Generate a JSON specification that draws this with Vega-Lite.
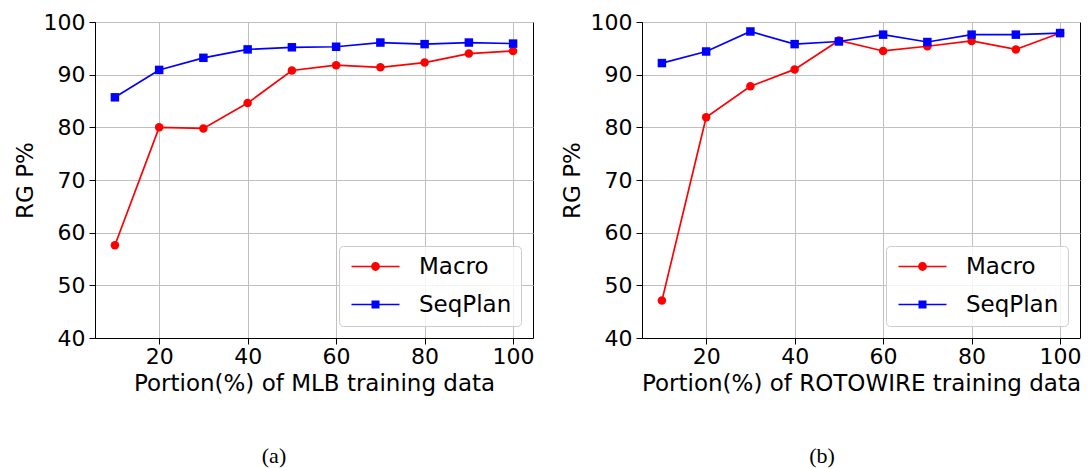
{
  "$schema": "https://vega.github.io/schema/vega-lite/v6.json",
  "padding": {"left": 13, "top": 10, "right": 0, "bottom": 0},
  "datasets": {
    "mlb": [
      {"portion": 10, "model": "Macro", "rg": 57.6},
      {"portion": 20, "model": "Macro", "rg": 80.0},
      {"portion": 30, "model": "Macro", "rg": 79.8},
      {"portion": 40, "model": "Macro", "rg": 84.6},
      {"portion": 50, "model": "Macro", "rg": 90.8},
      {"portion": 60, "model": "Macro", "rg": 91.8},
      {"portion": 70, "model": "Macro", "rg": 91.4},
      {"portion": 80, "model": "Macro", "rg": 92.3},
      {"portion": 90, "model": "Macro", "rg": 94.0},
      {"portion": 100, "model": "Macro", "rg": 94.5},
      {"portion": 10, "model": "SeqPlan", "rg": 85.7},
      {"portion": 20, "model": "SeqPlan", "rg": 90.9},
      {"portion": 30, "model": "SeqPlan", "rg": 93.2},
      {"portion": 40, "model": "SeqPlan", "rg": 94.8},
      {"portion": 50, "model": "SeqPlan", "rg": 95.2},
      {"portion": 60, "model": "SeqPlan", "rg": 95.3},
      {"portion": 70, "model": "SeqPlan", "rg": 96.1},
      {"portion": 80, "model": "SeqPlan", "rg": 95.8},
      {"portion": 90, "model": "SeqPlan", "rg": 96.1},
      {"portion": 100, "model": "SeqPlan", "rg": 95.9}
    ],
    "rotowire": [
      {"portion": 10, "model": "Macro", "rg": 47.1},
      {"portion": 20, "model": "Macro", "rg": 81.9},
      {"portion": 30, "model": "Macro", "rg": 87.8},
      {"portion": 40, "model": "Macro", "rg": 91.0},
      {"portion": 50, "model": "Macro", "rg": 96.5},
      {"portion": 60, "model": "Macro", "rg": 94.5},
      {"portion": 70, "model": "Macro", "rg": 95.4},
      {"portion": 80, "model": "Macro", "rg": 96.4},
      {"portion": 90, "model": "Macro", "rg": 94.8},
      {"portion": 100, "model": "Macro", "rg": 97.9},
      {"portion": 10, "model": "SeqPlan", "rg": 92.2},
      {"portion": 20, "model": "SeqPlan", "rg": 94.4},
      {"portion": 30, "model": "SeqPlan", "rg": 98.2},
      {"portion": 40, "model": "SeqPlan", "rg": 95.8},
      {"portion": 50, "model": "SeqPlan", "rg": 96.3},
      {"portion": 60, "model": "SeqPlan", "rg": 97.6},
      {"portion": 70, "model": "SeqPlan", "rg": 96.2},
      {"portion": 80, "model": "SeqPlan", "rg": 97.6},
      {"portion": 90, "model": "SeqPlan", "rg": 97.6},
      {"portion": 100, "model": "SeqPlan", "rg": 97.9}
    ]
  },
  "hconcat": [
    {
      "width": 438,
      "height": 316,
      "data": {"name": "mlb"},
      "title": {"text": "(a)", "orient": "bottom", "anchor": "middle", "frame": "group", "offset": 51, "dx": -40},
      "encoding": {
        "x": {"field": "portion", "type": "quantitative", "scale": {"domain": [5.5, 104.5], "nice": false, "zero": false}, "axis": {"values": [20, 40, 60, 80, 100], "title": "Portion(%) of MLB training data"}},
        "y": {"field": "rg", "type": "quantitative", "scale": {"domain": [40, 100], "nice": false, "zero": false}, "axis": {"values": [40, 50, 60, 70, 80, 90, 100], "title": "RG P%"}},
        "color": {"field": "model", "type": "nominal", "scale": {"domain": ["Macro", "SeqPlan"], "range": ["#ff0000", "#0000ff"]}}
      },
      "layer": [
        {
          "mark": {"type": "point", "filled": true, "opacity": 0, "size": 256},
          "encoding": {
            "color": {"field": "model", "type": "nominal", "scale": {"domain": ["Macro", "SeqPlan"], "range": ["#ff0000", "#0000ff"]}, "legend": {"title": null}},
            "shape": {"field": "model", "type": "nominal", "scale": {"domain": ["Macro", "SeqPlan"], "range": ["M-1,-0.1H5V0.1H-1Z M2.55,0A0.55,0.55,0,1,1,1.45,0A0.55,0.55,0,1,1,2.55,0Z", "M-1,-0.1H5V0.1H-1Z M1.5,-0.5H2.5V0.5H1.5Z"]}, "legend": {"title": null}}
          }
        },
        {"transform": [{"filter": "datum.model === 'Macro'"}], "mark": {"type": "line", "strokeWidth": 1.7}},
        {"transform": [{"filter": "datum.model === 'Macro'"}], "mark": {"type": "point", "shape": "circle", "filled": true, "size": 72, "opacity": 1}},
        {"transform": [{"filter": "datum.model === 'SeqPlan'"}], "mark": {"type": "line", "strokeWidth": 1.7}},
        {"transform": [{"filter": "datum.model === 'SeqPlan'"}], "mark": {"type": "point", "shape": "square", "filled": true, "size": 72, "opacity": 1}}
      ]
    },
    {
      "width": 438,
      "height": 316,
      "data": {"name": "rotowire"},
      "title": {"text": "(b)", "orient": "bottom", "anchor": "middle", "frame": "group", "offset": 51, "dx": -39},
      "encoding": {
        "x": {"field": "portion", "type": "quantitative", "scale": {"domain": [5.5, 104.5], "nice": false, "zero": false}, "axis": {"values": [20, 40, 60, 80, 100], "title": "Portion(%) of ROTOWIRE training data"}},
        "y": {"field": "rg", "type": "quantitative", "scale": {"domain": [40, 100], "nice": false, "zero": false}, "axis": {"values": [40, 50, 60, 70, 80, 90, 100], "title": "RG P%"}},
        "color": {"field": "model", "type": "nominal", "scale": {"domain": ["Macro", "SeqPlan"], "range": ["#ff0000", "#0000ff"]}}
      },
      "layer": [
        {
          "mark": {"type": "point", "filled": true, "opacity": 0, "size": 256},
          "encoding": {
            "color": {"field": "model", "type": "nominal", "scale": {"domain": ["Macro", "SeqPlan"], "range": ["#ff0000", "#0000ff"]}, "legend": {"title": null}},
            "shape": {"field": "model", "type": "nominal", "scale": {"domain": ["Macro", "SeqPlan"], "range": ["M-1,-0.1H5V0.1H-1Z M2.55,0A0.55,0.55,0,1,1,1.45,0A0.55,0.55,0,1,1,2.55,0Z", "M-1,-0.1H5V0.1H-1Z M1.5,-0.5H2.5V0.5H1.5Z"]}, "legend": {"title": null}}
          }
        },
        {"transform": [{"filter": "datum.model === 'Macro'"}], "mark": {"type": "line", "strokeWidth": 1.7}},
        {"transform": [{"filter": "datum.model === 'Macro'"}], "mark": {"type": "point", "shape": "circle", "filled": true, "size": 72, "opacity": 1}},
        {"transform": [{"filter": "datum.model === 'SeqPlan'"}], "mark": {"type": "line", "strokeWidth": 1.7}},
        {"transform": [{"filter": "datum.model === 'SeqPlan'"}], "mark": {"type": "point", "shape": "square", "filled": true, "size": 72, "opacity": 1}}
      ]
    }
  ],
  "spacing": 6,
  "resolve": {"legend": {"color": "independent", "shape": "independent"}, "scale": {"color": "independent", "shape": "independent"}},
  "config": {
    "font": "DejaVu Sans",
    "view": {"stroke": "#000000", "strokeWidth": 1},
    "axis": {
      "labelFont": "DejaVu Sans", "labelFontSize": 22, "labelColor": "#000000",
      "titleFont": "DejaVu Sans", "titleFontSize": 23, "titleFontWeight": "normal", "titleColor": "#000000",
      "domainColor": "#000000", "domainWidth": 1, "tickColor": "#000000", "tickSize": 6, "tickWidth": 1,
      "grid": true, "gridColor": "#c0c0c0", "gridWidth": 1, "labelFlush": false, "labelOverlap": false
    },
    "axisX": {"labelPadding": 2, "titlePadding": 5},
    "axisY": {"labelPadding": 4, "titlePadding": 6},
    "legend": {
      "disable": true,
      "orient": "bottom-right", "offset": 12, "padding": 9, "rowPadding": 14, "labelOffset": 48,
      "symbolSize": 256, "symbolOpacity": 1, "symbolStrokeWidth": 0,
      "labelFont": "DejaVu Sans", "labelFontSize": 23, "labelColor": "#000000", "labelLimit": 300,
      "strokeColor": "#cccccc", "fillColor": "rgba(255,255,255,0.8)", "cornerRadius": 4
    },
    "title": {"font": "Liberation Serif", "fontSize": 22, "fontWeight": "normal", "color": "#000000"}
  }
}
